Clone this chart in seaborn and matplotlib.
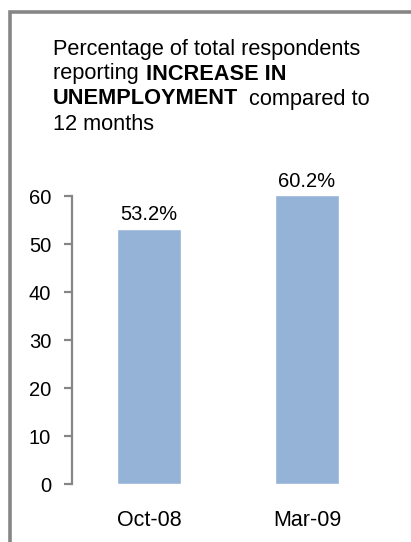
import matplotlib
matplotlib.use("Agg")
import matplotlib.pyplot as plt
from matplotlib.lines import Line2D
import seaborn as sns
import pandas as pd

periods = ["Oct-08", "Mar-09"]
pct_increase = [53.2, 60.2]
y_ticks = [0, 10, 20, 30, 40, 50, 60]

sns.set_style("white")
plt.rcParams["font.family"] = ["Liberation Sans", "DejaVu Sans"]
plt.rcParams["text.color"] = "black"

W, H = 411, 542
fig = plt.figure(figsize=(W / 100, H / 100), dpi=100)
ax = fig.add_axes([72 / W, 1 - 484 / H, (384 - 72) / W, (484 - 196) / H])

df = pd.DataFrame({"period": periods, "pct": pct_increase})
sns.barplot(data=df, x="period", y="pct", color="#95B3D7", saturation=1,
            width=0.405, ax=ax)

ax.set_xlim(-0.487, 1.487)
ax.set_ylim(0, 60)
ax.set_yticks(y_ticks)
ax.set_xlabel("")
ax.set_ylabel("")
for s in ["top", "right", "bottom"]:
    ax.spines[s].set_visible(False)
ax.spines["left"].set_color("#868686")
ax.spines["left"].set_linewidth(1.6)
ax.spines["left"].set_bounds(0, 60)
ax.tick_params(axis="y", length=6, width=1.6, color="#868686", left=True,
               labelsize=14.5, pad=9, labelcolor="black")
ax.tick_params(axis="x", length=0, labelsize=15.5, pad=19, labelcolor="black")
for c in ax.containers:
    texts = ax.bar_label(c, labels=[f"{v:.1f}%" for v in pct_increase],
                         padding=3, fontsize=14.5, color="black")
    for t in texts:
        t.set_annotation_clip(False)
        t.set_clip_on(False)
for lab in ax.get_yticklabels() + ax.get_xticklabels():
    lab.set_clip_on(False)

# heading with bold segments
fs = 15.7
renderer = fig.canvas.get_renderer()

def put(x_px, y_px, s, bold=False):
    t = fig.text(x_px / W, 1 - y_px / H, s, fontsize=fs, color="black",
                 fontweight="bold" if bold else "normal", va="center", ha="left")
    bb = t.get_window_extent(renderer=renderer)
    return bb.x1

x0 = 53
put(x0, 49, "Percentage of total respondents")
x = put(x0, 74, "reporting ")
put(x + 1, 74, "INCREASE IN", bold=True)
x = put(x0, 99, "UNEMPLOYMENT", bold=True)
put(x + 11, 99, "compared to")
put(x0, 124, "12 months")

# panel frame
frame = Line2D([9.5 / W, 9.5 / W, 1.0], [0.0, 1 - 11.5 / H, 1 - 11.5 / H],
               transform=fig.transFigure, color="#868686", linewidth=2.6,
               solid_joinstyle="miter")
fig.add_artist(frame)

fig.savefig("out.png", dpi=100)
